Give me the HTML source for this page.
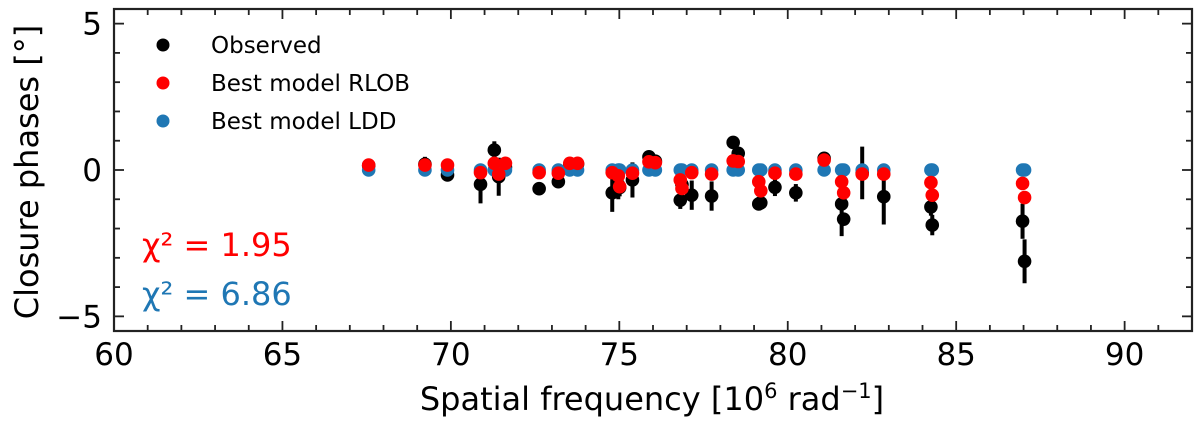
<!DOCTYPE html>
<html><head><meta charset="utf-8">
<style>
html,body{margin:0;padding:0;background:#fff;}
svg{display:block;font-family:"DejaVu Sans","Liberation Sans",sans-serif;}
</style></head>
<body>
<svg id="chart" width="1200" height="426" viewBox="0 0 1200 426" xmlns="http://www.w3.org/2000/svg">
<g id="marks"></g>
<g id="axes"></g>
<text transform="translate(38,172) rotate(-90)" text-anchor="middle" font-size="32">Closure phases [°]</text>
<text x="652" y="410" text-anchor="middle" font-size="32">Spatial frequency [10<tspan dy="-12" font-size="21">6</tspan><tspan dy="12"> rad</tspan><tspan dy="-12" font-size="21">−1</tspan><tspan dy="12">]</tspan></text>
<g>
  <circle cx="163" cy="45" r="6.5" fill="#000"/>
  <text x="211" y="53" font-size="23">Observed</text>
  <circle cx="163" cy="83" r="6.5" fill="#ff0000"/>
  <text x="211" y="91" font-size="23">Best model RLOB</text>
  <circle cx="163" cy="121" r="6.5" fill="#1f77b4"/>
  <text x="211" y="129" font-size="23">Best model LDD</text>
</g>
<text x="142" y="256" font-size="32" fill="#ff0000">χ² = 1.95</text>
<text x="142" y="305" font-size="32" fill="#1f77b4">χ² = 6.86</text>
</svg>
<script>
const freq   = [67.56,69.23,69.9,70.88,71.29,71.42,71.62,72.62,73.19,73.53,73.76,74.79,74.97,75.01,75.39,75.88,76.07,76.81,76.86,77.15,77.74,78.38,78.53,79.14,79.2,79.62,80.24,81.08,81.6,81.66,82.21,82.85,84.25,84.29,86.97,87.03];
const obs    = [0.15,0.2,-0.17,-0.49,0.68,-0.23,0.1,-0.64,-0.4,0.2,0.2,-0.78,-0.5,-0.6,-0.34,0.45,0.3,-1.03,-0.5,-0.86,-0.89,0.94,0.57,-1.16,-1.12,-0.59,-0.78,0.4,-1.16,-1.68,-0.1,-0.91,-1.26,-1.88,-1.75,-3.12];
const obsErr = [0.1,0.25,0.1,0.65,0.3,0.65,0.2,0.1,0.15,0.1,0.1,0.65,0.5,0.3,0.6,0.2,0.15,0.3,0.4,0.5,0.5,0.2,0.2,0.1,0.1,0.3,0.3,0.1,1.1,0.1,0.9,0.95,0.3,0.35,0.6,0.75];
const rlob   = [0.17,0.17,0.17,-0.09,0.23,-0.14,0.23,-0.09,-0.11,0.23,0.23,-0.09,-0.2,-0.57,-0.11,0.28,0.25,-0.34,-0.63,-0.09,-0.14,0.31,0.29,-0.4,-0.71,-0.11,-0.14,0.34,-0.4,-0.78,-0.14,-0.14,-0.43,-0.86,-0.46,-0.94];
const ldd    = [0,0,0,0,0,0,0,0,0,0,0,0,0,0,0,0,0,0,0,0,0,0,0,0,0,0,0,0,0,0,0,0,0,0,0,0];
const xTicks = [60,65,70,75,80,85,90];
const yTicks = [-5,0,5];

const X0=114,X1=1192,Y0=9,Y1=331,xmin=60,xmax=92,ymin=-5.5,ymax=5.5;
const sx=v=>X0+(v-xmin)/(xmax-xmin)*(X1-X0);
const sy=v=>Y1-(v-ymin)/(ymax-ymin)*(Y1-Y0);
const NS="http://www.w3.org/2000/svg";
const marks=document.getElementById('marks');
const axes=document.getElementById('axes');
function mk(tag,attrs,parent){const e=document.createElementNS(NS,tag);for(const k in attrs)e.setAttribute(k,attrs[k]);parent.appendChild(e);return e;}

freq.forEach((f,i)=>{
  const b=mk('line',{x1:sx(f),x2:sx(f),y1:sy(obs[i]-obsErr[i]),y2:sy(obs[i]+obsErr[i]),stroke:'#000','stroke-width':4},marks);
  
  
});
freq.forEach((f,i)=>{
  const c=mk('circle',{cx:sx(f),cy:sy(obs[i]),r:6.8,fill:'#000'},marks);
  
  
});
freq.forEach((f,i)=>{
  const c=mk('circle',{cx:sx(f),cy:sy(ldd[i]),r:6.8,fill:'#1f77b4'},marks);
  
  
});
freq.forEach((f,i)=>{
  const c=mk('circle',{cx:sx(f),cy:sy(rlob[i]),r:6.8,fill:'#ff0000'},marks);
  
  
});

const fr=mk('rect',{x:X0,y:Y0,width:X1-X0,height:Y1-Y0,fill:'none',stroke:'#222','stroke-width':2.2},axes);


for(let v=xmin;v<=xmax;v++){
  const major=xTicks.includes(v);const L=major?10:6;
  if(v===xmin||v===xmax)continue;
  const t1=mk('line',{x1:sx(v),x2:sx(v),y1:Y1,y2:Y1-L,stroke:'#222','stroke-width':1.8},axes);
  
  
  const t2=mk('line',{x1:sx(v),x2:sx(v),y1:Y0,y2:Y0+L,stroke:'#222','stroke-width':1.8},axes);
  
  
}
xTicks.forEach(v=>{
  const t=mk('text',{x:sx(v),y:365,'text-anchor':'middle','font-size':31},axes);
  t.textContent=v;
  
  
});
for(let v=-5;v<=5;v++){
  const major=yTicks.includes(v);const L=major?10:6;
  const t1=mk('line',{x1:X0,x2:X0+L,y1:sy(v),y2:sy(v),stroke:'#222','stroke-width':1.8},axes);
  
  
  const t2=mk('line',{x1:X1,x2:X1-L,y1:sy(v),y2:sy(v),stroke:'#222','stroke-width':1.8},axes);
  
  
}
yTicks.forEach(v=>{
  const t=mk('text',{x:102,y:sy(v)+11,'text-anchor':'end','font-size':31},axes);
  t.textContent=v<0?'−'+Math.abs(v):String(v);
  
  
});
</script>
</body></html>
